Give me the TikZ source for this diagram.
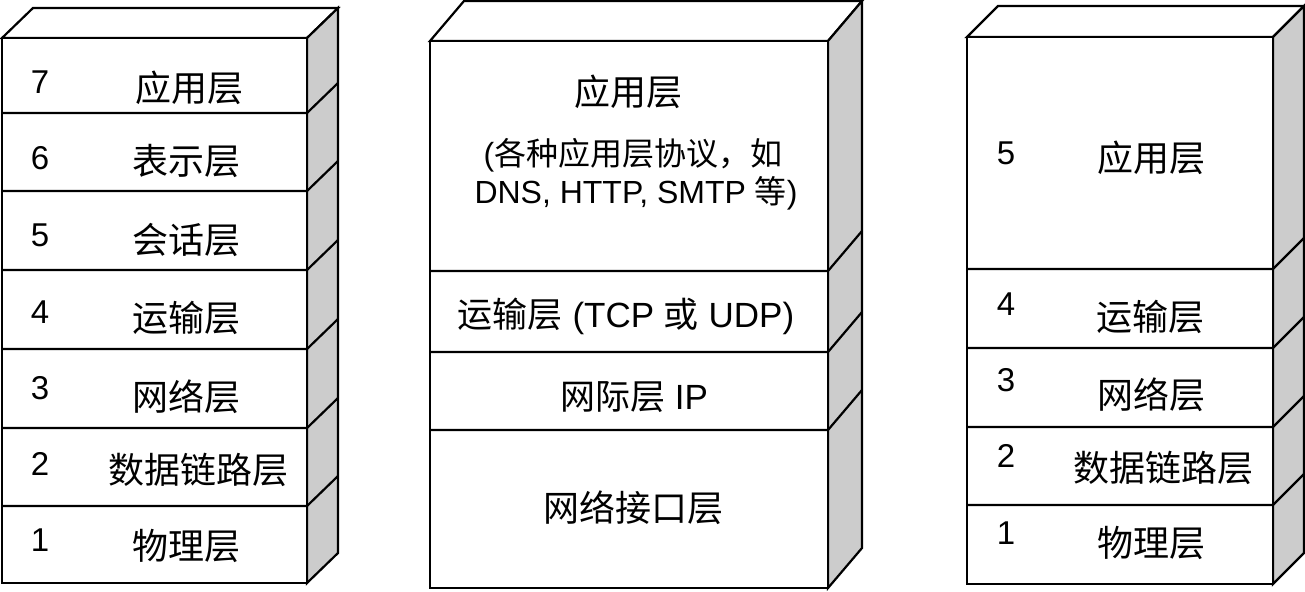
\documentclass[tikz,border=0pt]{standalone}
\usepackage{fontspec}
\setmainfont{Liberation Sans}
\newfontfamily\cjk{Noto Sans CJK SC}
\begin{document}
\begin{tikzpicture}[x=1pt,y=-1pt,
  edge/.style={line width=2.2pt,line join=miter},
  side/.style={edge,fill=black!20},
  lbl/.style={font=\fontsize{36}{40}\selectfont\cjk,inner sep=0pt,anchor=center},
  num/.style={font=\fontsize{33}{36}\selectfont,inner sep=0pt,anchor=center}]
\useasboundingbox (0,0) rectangle (1305,591);
\newcommand\stackbox[7]{%
  \draw[edge,fill=white] (#1,#3) -- (#1+#5,#3-#6) -- (#2+#5,#3-#6) -- (#2,#3) -- cycle;
  \draw[side] (#2,#3) -- (#2+#5,#3-#6) -- (#2+#5,#4-#6) -- (#2,#4) -- cycle;
  \draw[edge,fill=white] (#1,#3) rectangle (#2,#4);
  \foreach \b in {#7}{\draw[edge] (#1,\b) -- (#2,\b) -- (#2+#5,\b-#6);}
}
\stackbox{2}{307}{38}{583}{31}{30}{113,191,270,349,428,506}
\stackbox{430}{828}{41}{588}{34}{40}{271,352,430}
\stackbox{967}{1273}{37}{584}{31}{31}{269,348,427,505}
% left
\node[num] (l7n) at (40,82) {7}; \node[lbl] (l7) at (189,88) {应用层};
\node[num] (l6n) at (40,158) {6}; \node[lbl] (l6) at (186,161) {表示层};
\node[num] (l5n) at (40,235) {5}; \node[lbl] (l5) at (186,240) {会话层};
\node[num] (l4n) at (40,312) {4}; \node[lbl] (l4) at (186,318) {运输层};
\node[num] (l3n) at (40,388) {3}; \node[lbl] (l3) at (186,397) {网络层};
\node[num] (l2n) at (40,464) {2}; \node[lbl] (l2) at (198,470) {数据链路层};
\node[num] (l1n) at (40,540) {1}; \node[lbl] (l1) at (186,546) {物理层};
% middle
\node[lbl] (m1) at (628,92) {应用层};
\node[lbl,font=\fontsize{32}{36}\selectfont] (m2) at (633,155) {({\cjk 各种应用层协议，如}};
\node[lbl,font=\fontsize{32}{36}\selectfont] (m3) at (636,193) {DNS, HTTP, SMTP {\cjk 等})};
\node[lbl,font=\fontsize{35}{40}\selectfont] (m4) at (626,316) {{\cjk 运输层} (TCP {\cjk 或} UDP)};
\node[lbl,font=\fontsize{35}{40}\selectfont] (m5) at (634,397) {{\cjk 网际层} IP};
\node[lbl] (m6) at (633,508) {网络接口层};
% right
\node[num] (r5n) at (1006,153) {5}; \node[lbl] (r5) at (1151,158) {应用层};
\node[num] (r4n) at (1006,304) {4}; \node[lbl] (r4) at (1150,317) {运输层};
\node[num] (r3n) at (1006,380) {3}; \node[lbl] (r3) at (1151,395) {网络层};
\node[num] (r2n) at (1006,456) {2}; \node[lbl] (r2) at (1163,468) {数据链路层};
\node[num] (r1n) at (1006,533) {1}; \node[lbl] (r1) at (1151,543) {物理层};
\end{tikzpicture}
\end{document}
